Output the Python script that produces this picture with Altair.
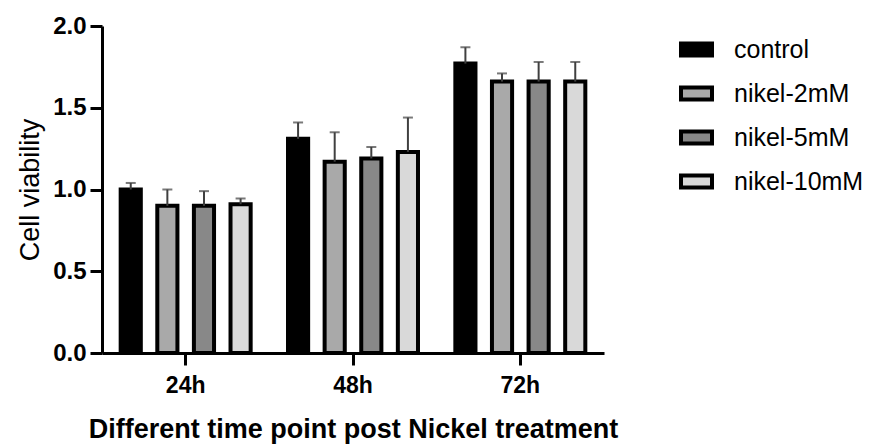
import altair as alt
import pandas as pd

times = ["24h", "48h", "72h"]
groups = ["control", "nikel-2mM", "nikel-5mM", "nikel-10mM"]
colors = ["#000000", "#a9a9a9", "#888888", "#d9d9d9"]

control = [1.00, 1.31, 1.77]
control_err = [0.04, 0.10, 0.10]
nikel_2 = [0.90, 1.17, 1.66]
nikel_2_err = [0.10, 0.18, 0.05]
nikel_5 = [0.90, 1.19, 1.66]
nikel_5_err = [0.09, 0.07, 0.12]
nikel_10 = [0.91, 1.23, 1.66]
nikel_10_err = [0.035, 0.21, 0.12]

vals = [control, nikel_2, nikel_5, nikel_10]
errs = [control_err, nikel_2_err, nikel_5_err, nikel_10_err]

rows = []
for g, v, e in zip(groups, vals, errs):
    for t, vv, ee in zip(times, v, e):
        rows.append({"time": t, "group": g, "value": vv, "top": vv + ee})
df = pd.DataFrame(rows)

FONT = "Liberation Sans"

x_enc = alt.X(
    "time:N",
    sort=times,
    scale=alt.Scale(paddingInner=0, paddingOuter=0),
    axis=alt.Axis(
        title="Different time point post Nickel treatment",
        labelAngle=0,
        labelFontSize=23,
        labelFontWeight="bold",
        labelColor="black",
        labelPadding=9,
        tickSize=12,
        tickWidth=3,
        tickColor="black",
        domainWidth=3,
        domainColor="black",
        titleFontSize=27,
        titleFontWeight="bold",
        titleColor="black",
        titleY=84,
        titleBaseline="alphabetic",
    ),
)
xoff = alt.XOffset(
    "group:N", sort=groups, scale=alt.Scale(paddingInner=0.45, paddingOuter=0.51)
)

y_enc = alt.Y(
    "value:Q",
    scale=alt.Scale(domain=[0, 2], nice=False),
    axis=alt.Axis(
        title="Cell viability",
        values=[0, 0.5, 1.0, 1.5, 2.0],
        format=".1f",
        grid=False,
        labelFontSize=24,
        labelFontWeight="bold",
        labelColor="black",
        labelPadding=4,
        tickSize=12,
        tickWidth=3,
        tickColor="black",
        domainWidth=3,
        domainColor="black",
        titleFontSize=27,
        titleFontWeight="normal",
        titleColor="black",
        titleX=-64,
        titleBaseline="alphabetic",
    ),
)

color_enc = alt.Color(
    "group:N",
    sort=groups,
    scale=alt.Scale(domain=groups, range=colors),
    legend=alt.Legend(
        title=None,
        orient="none",
        legendX=577,
        legendY=6,
        symbolType="M-1,-0.39L1,-0.39L1,0.39L-1,0.39Z",
        symbolSize=961,
        symbolStrokeWidth=4,
        symbolStrokeColor="black",
        symbolOpacity=1,
        labelFontSize=25,
        labelColor="black",
        labelOffset=20,
        rowPadding=12,
    ),
)

base = alt.Chart(df)

bars = base.mark_bar(stroke="black", strokeWidth=4).encode(
    x=x_enc, xOffset=xoff, y=y_enc, color=color_enc
)

rules = base.mark_rule(color="#404040", strokeWidth=2).encode(
    x=alt.X("time:N", sort=times), xOffset=alt.XOffset("group:N", sort=groups),
    y="value:Q", y2="top:Q"
)

caps = base.mark_tick(color="#404040", thickness=2, size=10).encode(
    x=alt.X("time:N", sort=times), xOffset=alt.XOffset("group:N", sort=groups),
    y="top:Q"
)

chart = (
    alt.layer(bars, rules, caps)
    .properties(
        width=502,
        height=327,
        autosize=alt.AutoSizeParams(type="none"),
        padding={"left": 102, "top": 26, "right": 270, "bottom": 91},
    )
    .configure(font=FONT)
    .configure_view(stroke=None)
)

chart.save("out.html", embed_options={"renderer": "svg", "actions": False})
